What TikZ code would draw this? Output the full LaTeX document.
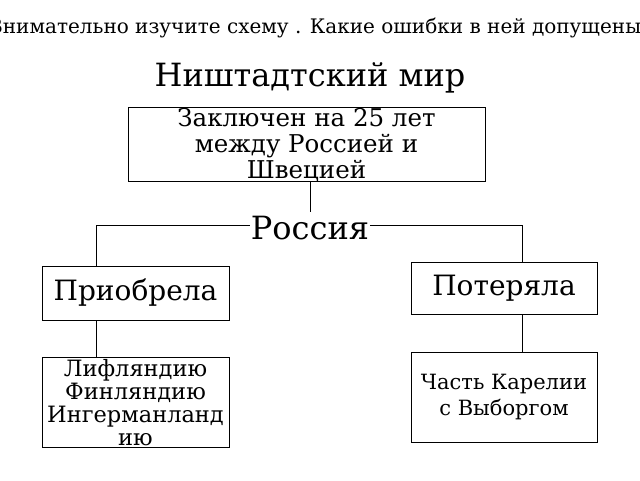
\documentclass[tikz,border=0pt]{standalone}
\usepackage{fontspec}
\setmainfont{DejaVu Serif}
\begin{document}
\begin{tikzpicture}[x=1pt,y=-1pt,
  bx/.style={draw,line width=1pt,inner sep=0pt,align=center},
  ln/.style={line width=1pt}]
\useasboundingbox (0,0) rectangle (640,480);
\clip (0,0) rectangle (640,480);
\node (q) at (320,28) {\fontsize{20}{24}\selectfont Внимательно изучите схему . Какие ошибки в ней допущены?};
\node (t) at (310,78) {\fontsize{32}{36}\selectfont Ништадтский мир};
\node[bx,minimum width=357,minimum height=74] (b1) at (306.5,144) {};
\node[align=center,font=\fontsize{24.5}{26}\selectfont] (b1t) at (306.5,145) {Заключен на 25 лет\\ между Россией и\\ Швецией};
\coordinate (j) at (310,225);
\coordinate (l) at (96,225);
\coordinate (r) at (522,225);
\draw[ln] (b1.south -| j) -- (310,212);
\draw[ln] (l) -- (r);
\node[fill=white,inner sep=1pt] (ru) at (310,228) {\fontsize{32}{34}\selectfont Россия};
\node[bx,minimum width=187,minimum height=54] (pr) at (135.5,293) {\fontsize{28}{30}\selectfont Приобрела};
\node[bx,minimum width=186,minimum height=52] (po) at (504,288) {\fontsize{28}{30}\selectfont Потеряла};
\node[bx,minimum width=187,minimum height=90] (lf) at (135.5,402) {};
\node[align=center,font=\fontsize{22.5}{23}\selectfont] (lft) at (135.5,403) {Лифляндию\\ Финляндию\\ Ингерманланд\\ ию};
\node[bx,minimum width=186,minimum height=90,font=\fontsize{21}{26}\selectfont] (ka) at (504,397) {Часть Карелии\\ с Выборгом};
\draw[ln] (l) -- (pr.north -| l);
\draw[ln] (r) -- (po.north -| r);
\draw[ln] (pr.south -| l) -- (lf.north -| l);
\draw[ln] (po.south -| r) -- (ka.north -| r);
\end{tikzpicture}
\end{document}
